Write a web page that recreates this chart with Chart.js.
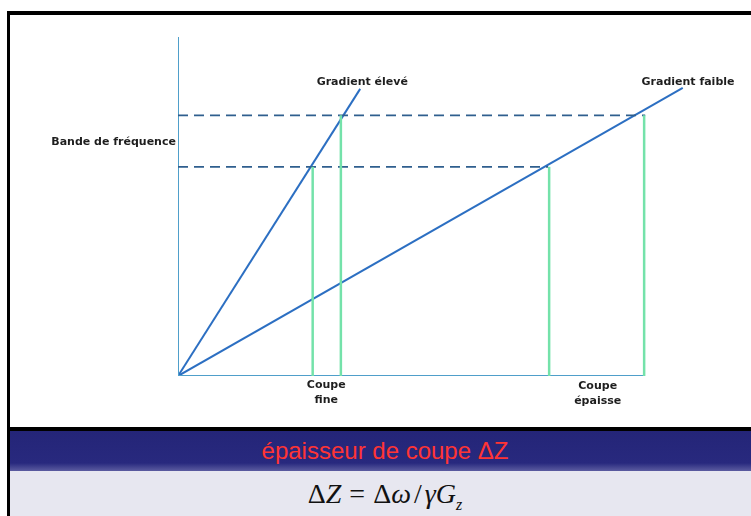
<!DOCTYPE html>
<html>
<head>
<meta charset="utf-8">
<script src="https://cdn.jsdelivr.net/npm/chart.js@4.4.1/dist/chart.umd.min.js"></script>
<style>
    body { margin: 0; width: 751px; height: 516px; overflow: hidden; background: #fff; position: relative; }
    #cadre { position: absolute; left: 7px; top: 11px; width: 800px; height: 520px; border-left: 3px solid #000; border-top: 4px solid #000; }
    #sep { position: absolute; left: 7px; top: 427px; width: 800px; height: 4px; background: #000; }
    #titre { position: absolute; left: 10px; top: 431px; width: 750px; height: 40px; line-height: 40px;
             background: linear-gradient(#242578 0%, #28297e 80%, #5c5ca0 100%);
             color: #ff3434; font-family: "Liberation Sans", Arial, sans-serif; font-size: 24px; text-align: center; }
    #formule { position: absolute; left: 10px; top: 471px; width: 750px; height: 45px; line-height: 45px;
               background: #e7e7f0; color: #111; font-family: "Liberation Serif", "DejaVu Serif", serif; font-size: 28px; text-align: center; }
    #formule i { font-style: italic; }
    #formule .op { display: inline-block; margin: 0 8px; }
    #formule .sl { display: inline-block; margin: 0 3px; }
    canvas { position: absolute; left: 0; top: 0; }
</style>
</head>
<body>
<div id="cadre"></div>
<div id="sep"></div>
<div id="titre">épaisseur de coupe ΔZ</div>
<div id="formule">Δ<i>Z</i><span class="op">=</span>Δ<i>ω</i><span class="sl">/</span><i>γG<sub style="font-size:16px">z</sub></i></div>
<canvas id="chartCoupe" width="751" height="516"></canvas>

<script>
// axes (unités arbitraires, 0..100)
const axeX = [0, 89.1];
const axeY = [0, 100];

// bande de fréquence : limites basse et haute
const bandeFreq = [61.7, 76.9];
const finTirets = [70.9, 89.5];

// droites de gradient : origine -> extrémité
const gradientEleve = [[0, 0], [34.9, 84.7]];
const gradientFaible = [[0, 0], [96.7, 85.0]];

// épaisseurs de coupe (bornes)
const coupeFine = [25.8, 31.2];
const coupeEpaisse = [71.1, 89.3];

const couleurAxe = "#4f9fca";
const couleurGradient = "#2c6fc2";
const couleurTirets = "#2f5f8e";
const couleurCoupe = "#74e2aa";

function segment(points, couleur, largeur, tirets) {
    return {
        data: points.map(p => ({ x: p[0], y: p[1] })),
        borderColor: couleur,
        borderWidth: largeur,
        borderDash: tirets || [],
        pointRadius: 0,
        fill: false,
        tension: 0
    };
}

const datasets = [];

// lignes verticales des coupes
[[coupeFine[0], bandeFreq[0]], [coupeFine[1], bandeFreq[1]],
 [coupeEpaisse[0], bandeFreq[0]], [coupeEpaisse[1], bandeFreq[1]]].forEach(c => {
    datasets.push(segment([[c[0], 0], [c[0], c[1]]], couleurCoupe, 2.5));
});

// tirets horizontaux
datasets.push(segment([[0, bandeFreq[0]], [finTirets[0], bandeFreq[0]]], couleurTirets, 1.8, [10, 6]));
datasets.push(segment([[0, bandeFreq[1]], [finTirets[1], bandeFreq[1]]], couleurTirets, 1.8, [10, 6]));

// axes
datasets.push(segment([[0, axeY[0]], [0, axeY[1]]], couleurAxe, 2));
datasets.push(segment([[axeX[0], 0], [axeX[1], 0]], couleurAxe, 2));

// gradients
datasets.push(segment(gradientEleve, couleurGradient, 2));
datasets.push(segment(gradientFaible, couleurGradient, 2));

const etiquettes = [
    { texte: ["Gradient élevé"], x: 35.3, y: 86.7, align: "center" },
    { texte: ["Gradient faible"], x: 97.7, y: 86.7, align: "center" },
    { texte: ["Bande de fréquence"], x: -0.4, y: 69.0, align: "right" },
    { texte: ["Coupe", "fine"], x: 28.4, y: -2.7, align: "center" },
    { texte: ["Coupe", "épaisse"], x: 80.4, y: -3.0, align: "center" }
];

const pluginEtiquettes = {
    id: "etiquettes",
    afterDraw(chart) {
        const ctx = chart.ctx;
        const sx = chart.scales.x, sy = chart.scales.y;
        ctx.save();
        ctx.fillStyle = "#1e1e1e";
        ctx.font = "bold 11px 'DejaVu Sans', sans-serif";
        ctx.textBaseline = "middle";
        etiquettes.forEach(e => {
            ctx.textAlign = e.align;
            const px = sx.getPixelForValue(e.x);
            const py = sy.getPixelForValue(e.y);
            e.texte.forEach((ligne, i) => ctx.fillText(ligne, px, py + i * 15));
        });
        ctx.restore();
    }
};

new Chart(document.getElementById("chartCoupe").getContext("2d"), {
    type: "line",
    data: { datasets },
    options: {
        responsive: false,
        animation: false,
        devicePixelRatio: 1,
        layout: { padding: { left: 178, right: 51, top: 37, bottom: 140 } },
        plugins: { legend: { display: false }, tooltip: { enabled: false } },
        scales: {
            x: { type: "linear", min: 0, max: 100, display: false },
            y: { type: "linear", min: 0, max: 100, display: false }
        }
    },
    plugins: [pluginEtiquettes]
});
</script>
</body>
</html>
